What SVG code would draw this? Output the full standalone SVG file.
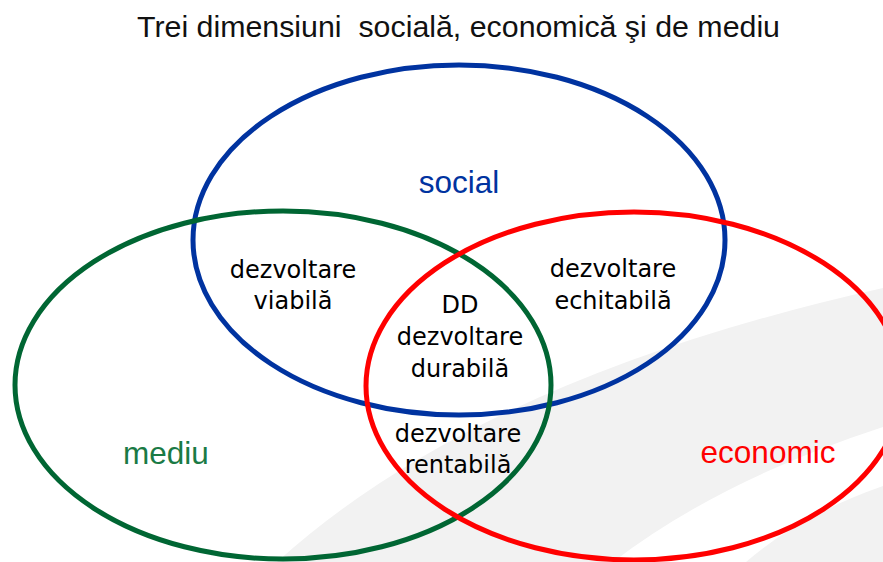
<svg xmlns="http://www.w3.org/2000/svg" width="883" height="562" viewBox="0 0 883 562">
<style>
.ring{fill:none;stroke-width:5}
.lbl{font-family:"DejaVu Sans",Verdana,sans-serif;font-size:24px;fill:#000000;text-anchor:middle}
.dim{font-family:"Liberation Sans",Arial,sans-serif;font-size:31.5px;text-anchor:middle}
</style>
<rect width="883" height="562" fill="#ffffff"/>
<g id="background">
<path d="M 277 562 Q 480 378 883 288 L 883 427 Q 720 480 613 562 Z" fill="#f2f2f2"/>
<path d="M 746 562 Q 800 515 883 486 L 883 562 Z" fill="#f2f2f2"/>
</g>
<text id="title" x="137" y="37" font-family="Liberation Sans, Arial, sans-serif" font-size="29" fill="#111" xml:space="preserve" textLength="643" lengthAdjust="spacingAndGlyphs">Trei dimensiuni  socială, economică şi de mediu</text>
<g id="connectors"></g>
<g id="social">
<ellipse class="ring" cx="459" cy="240" rx="266" ry="175" stroke="#0033a0"/>
<text class="dim" x="459" y="193" fill="#0033a0">social</text>
</g>
<g id="mediu">
<ellipse class="ring" cx="283" cy="385" rx="268" ry="174" stroke="#006633"/>
<text class="dim" x="166" y="464" fill="#1a7a45">mediu</text>
</g>
<g id="economic">
<ellipse class="ring" cx="634" cy="386" rx="268" ry="174" stroke="#ff0000"/>
<text class="dim" x="768" y="463" fill="#ff0000">economic</text>
</g>
<g id="viabila">
<text class="lbl" x="293" y="278">dezvoltare</text>
<text class="lbl" x="293" y="309">viabilă</text>
</g>
<g id="echitabila">
<text class="lbl" x="613" y="277">dezvoltare</text>
<text class="lbl" x="613" y="309">echitabilă</text>
</g>
<g id="durabila">
<text class="lbl" x="460" y="313">DD</text>
<text class="lbl" x="460" y="345">dezvoltare</text>
<text class="lbl" x="460" y="377">durabilă</text>
</g>
<g id="rentabila">
<text class="lbl" x="458" y="442">dezvoltare</text>
<text class="lbl" x="458" y="473">rentabilă</text>
</g>
</svg>
